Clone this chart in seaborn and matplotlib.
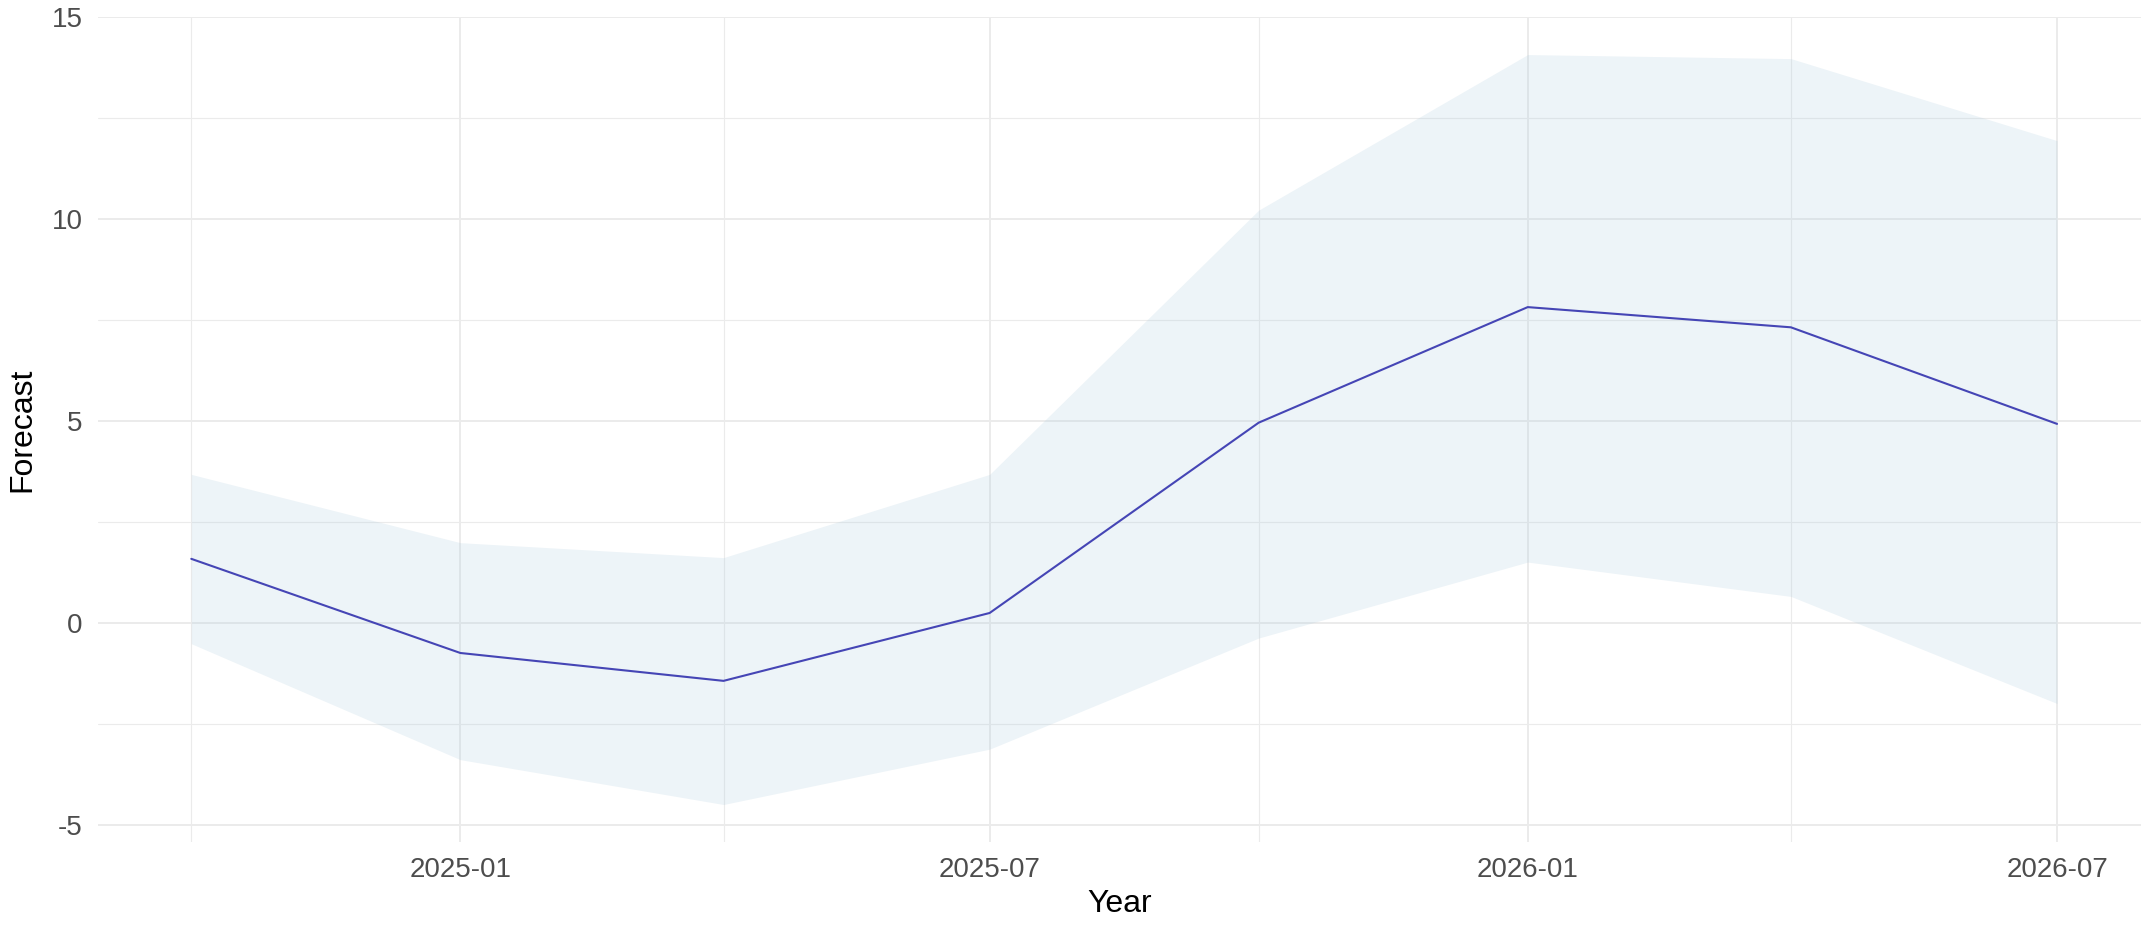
import pandas as pd
import matplotlib
matplotlib.use("Agg")
import matplotlib.pyplot as plt
import matplotlib.dates as mdates
import seaborn as sns

# forecast values (quarterly)
dates = ["2024-10-01", "2025-01-01", "2025-04-01", "2025-07-01",
         "2025-10-01", "2026-01-01", "2026-04-01", "2026-07-01"]
forecast = [1.59, -0.74, -1.43, 0.25, 4.96, 7.82, 7.32, 4.93]
lower = [-0.51, -3.38, -4.49, -3.12, -0.37, 1.51, 0.66, -1.99]
upper = [3.68, 1.99, 1.62, 3.68, 10.22, 14.07, 13.97, 11.94]

df = pd.DataFrame({
    "Year": pd.to_datetime(dates),
    "Forecast": forecast,
    "Lower": lower,
    "Upper": upper,
})

sns.set_theme(style="white")
plt.rcParams["font.family"] = ["Liberation Sans", "DejaVu Sans"]
plt.rcParams["axes.unicode_minus"] = False

fig = plt.figure(figsize=(21.49, 9.30), dpi=100)
ax = fig.add_axes([98 / 2149, 1 - 842 / 930, (2141 - 98) / 2149, (842 - 17) / 930])

# ribbon + line
ax.fill_between(df["Year"], df["Lower"], df["Upper"], color="#A6C8DC",
                alpha=0.2, linewidth=0, zorder=2)
sns.lineplot(data=df, x="Year", y="Forecast", ax=ax, color="#4545B5",
             linewidth=1.5, zorder=3)

# ggplot-like 5% expansion
span = df["Year"].max() - df["Year"].min()
ax.set_xlim(df["Year"].min() - span * 0.05, df["Year"].max() + span * 0.045)
ylo, yhi = min(lower), max(upper)
pad = (yhi - ylo) * 0.05
ax.set_ylim(ylo - pad, yhi + pad)

ax.xaxis.set_major_locator(mdates.MonthLocator(bymonth=[1, 7]))
ax.xaxis.set_minor_locator(mdates.MonthLocator(bymonth=[4, 10]))
ax.xaxis.set_major_formatter(mdates.DateFormatter("%Y-%m"))
ax.set_yticks([-5, 0, 5, 10, 15])
ax.set_yticks([-2.5, 2.5, 7.5, 12.5], minor=True)

ax.grid(which="major", color="#EBEBEB", linewidth=1.4, zorder=0)
ax.grid(which="minor", color="#EBEBEB", linewidth=0.8, zorder=0)
ax.set_axisbelow(True)
for s in ax.spines.values():
    s.set_visible(False)

ax.tick_params(axis="both", which="both", length=0, labelsize=20,
               labelcolor="#4D4D4D")
ax.tick_params(axis="x", pad=11)
ax.tick_params(axis="y", pad=11)

ax.set_xlabel("Year", fontsize=23, color="black", labelpad=4)
ax.set_ylabel("Forecast", fontsize=23, color="black", labelpad=10)

fig.savefig("out.png", dpi=100)
